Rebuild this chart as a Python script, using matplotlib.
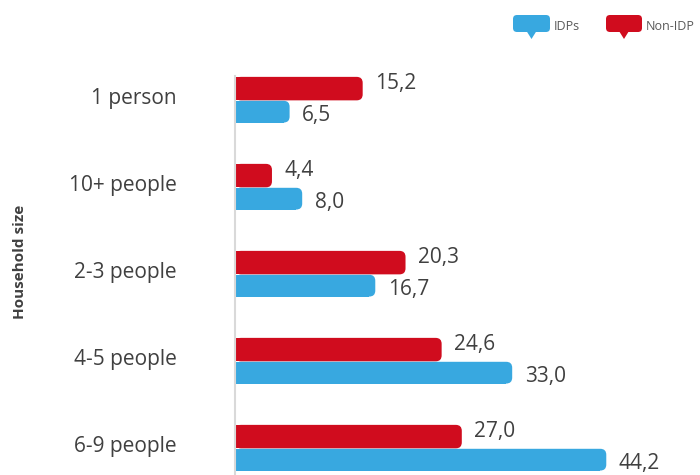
import matplotlib.pyplot as plt
from matplotlib.patches import FancyBboxPatch, Rectangle, Polygon

categories = ["1 person", "10+ people", "2-3 people", "4-5 people", "6-9 people"]
idps = [6.5, 8.0, 16.7, 33.0, 44.2]
non_idp = [15.2, 4.4, 20.3, 24.6, 27.0]

blue = "#38A8E0"
red = "#D00C1E"
grey = "#404040"

plt.rcParams['font.family'] = ['Open Sans', 'DejaVu Sans']

fig = plt.figure(figsize=(7, 4.75), dpi=100)
# axes runs past the bottom edge, the original is cropped there
ax = fig.add_axes([235 / 700, -0.0, 420 / 700, 1 - 76 / 475])

px_x = 420 / 50.0          # pixels per x unit
px_y = 87.0                # pixels per category
aspect = (1 / px_y) / (1 / px_x)
r = 6 / px_x               # corner radius in x units


def rounded_bar(y0, h, w, color):
    rr = min(r, w / 2)
    ax.add_patch(Rectangle((0, y0), w - rr, h, color=color, lw=0))
    ax.add_patch(FancyBboxPatch((0, y0), w, h,
                                boxstyle="round,pad=0,rounding_size=%f" % rr,
                                mutation_aspect=aspect, color=color, lw=0))


h = 0.27
for i in range(len(categories)):
    rounded_bar(i - h, h, non_idp[i], red)
    rounded_bar(i + 0.005, h - 0.02, idps[i], blue)
    ax.text(non_idp[i] + 1.5, i - 0.19, ("%.1f" % non_idp[i]).replace(".", ","),
            va="center", ha="left", fontsize=15, color=grey)
    ax.text(idps[i] + 1.5, i + 0.17, ("%.1f" % idps[i]).replace(".", ","),
            va="center", ha="left", fontsize=15, color=grey)

ax.set_xlim(0, 50)
ax.set_ylim(-0.28 + 399 / px_y, -0.28)
ax.set_yticks([i - 0.05 for i in range(len(categories))])
ax.set_yticklabels(categories, fontsize=15, color=grey)
ax.tick_params(axis="y", length=0, pad=42)
ax.set_xticks([])
for s in ["top", "right", "bottom"]:
    ax.spines[s].set_visible(False)
ax.spines["left"].set_color("#d9d9d9")
ax.spines["left"].set_linewidth(1.5)

fig.text(20 / 700, 1 - 262 / 475, "Household size", rotation=90, ha="center",
         va="center", fontsize=11, fontweight="bold", color=grey)


# legend as speech bubbles, in figure pixels
def bubble(x0, x1, label, color):
    W, H = 700.0, 475.0
    fig.add_artist(FancyBboxPatch((x0 / W, 1 - 32 / H), (x1 - x0) / W, 17 / H,
                                  boxstyle="round,pad=0,rounding_size=%f" % (4 / W),
                                  mutation_aspect=W / H, transform=fig.transFigure,
                                  color=color, lw=0))
    cx = x0 + 0.5 * (x1 - x0)
    fig.add_artist(Polygon([((cx - 5) / W, 1 - 31 / H), ((cx + 5) / W, 1 - 31 / H),
                            (cx / W, 1 - 39 / H)], closed=True,
                           transform=fig.transFigure, color=color, lw=0))
    fig.text((x1 + 4) / W, 1 - 26 / H, label, ha="left", va="center",
             fontsize=9, color="#595959")


bubble(513, 550, "IDPs", blue)
bubble(606, 642, "Non-IDP", red)

fig.savefig("out.png", dpi=100)
